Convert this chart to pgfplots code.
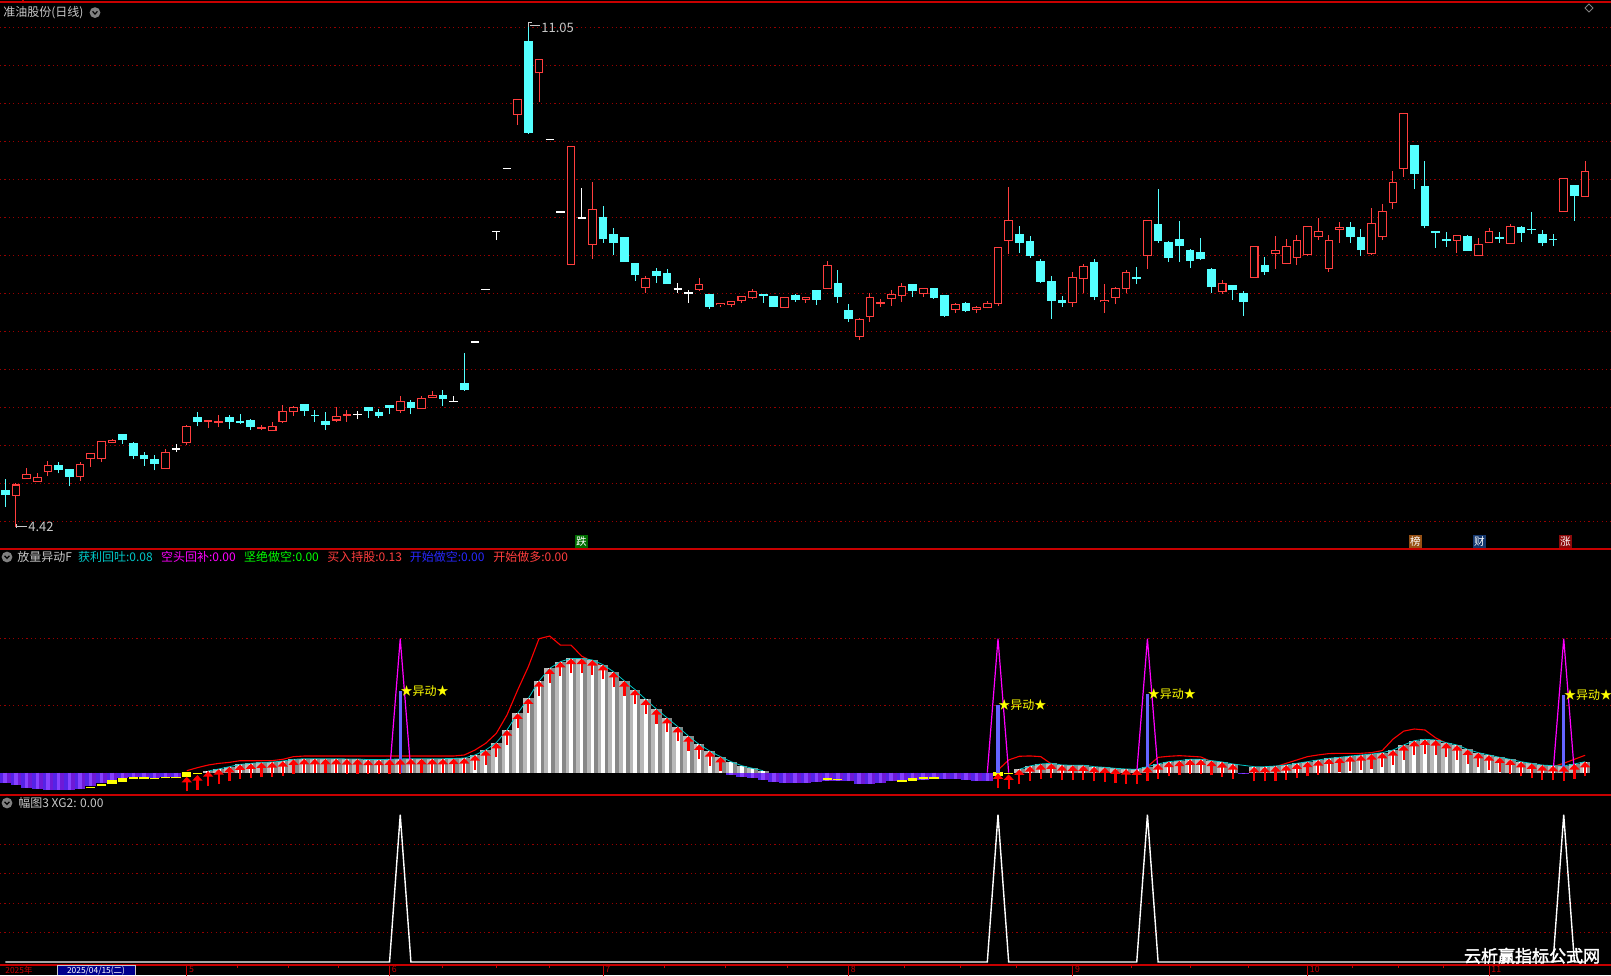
\documentclass[border=0pt]{standalone}
\usepackage{pgfplots}
\usepackage{pgfplotstable}
\pgfplotsset{compat=1.18}
\usepackage{fontspec}
\setmainfont{Noto Sans CJK SC}
\newfontfamily\wmfont{Noto Sans CJK SC}[FakeBold=2]
\usetikzlibrary{arrows.meta}
\definecolor{upR}{RGB}{255,62,62}
\definecolor{dnC}{RGB}{84,255,255}
\definecolor{gridR}{RGB}{150,0,0}
\definecolor{sepR}{RGB}{200,0,0}
\definecolor{txtG}{RGB}{200,200,200}
\definecolor{purL}{RGB}{85,35,230}
\definecolor{purM}{RGB}{135,65,255}
\definecolor{purR}{RGB}{110,25,215}
\definecolor{grL}{RGB}{185,185,185}
\definecolor{grR}{RGB}{135,135,135}
\definecolor{yel}{RGB}{255,255,0}
\definecolor{mag}{RGB}{255,0,255}
\definecolor{blu}{RGB}{100,100,255}
\definecolor{arrR}{RGB}{255,0,0}
\definecolor{cyL}{RGB}{0,200,200}
\definecolor{grnT}{RGB}{0,255,0}
\definecolor{bluT}{RGB}{40,40,255}
\definecolor{navy}{RGB}{0,0,140}
\definecolor{tagG}{RGB}{0,110,0}
\definecolor{tagB}{RGB}{150,80,20}
\definecolor{tagF}{RGB}{20,55,110}
\definecolor{tagZ}{RGB}{140,10,10}
\newcommand\tf{\fontsize{6pt}{7pt}\selectfont}

\pgfplotsset{
  panel/.style={
    scale only axis, anchor=south west, width=805.5pt,
    xmin=-0.4965, xmax=150.43,
    axis line style={draw=none}, major tick length=0pt,
    xtick=\empty, yticklabels={}, ymajorgrids,
    grid style={gridR, line width=0.5pt, dash pattern=on 0.6pt off 1.6pt},
  }
}

% ---------- candles: up (red hollow) ----------
\pgfplotstableread{
i O H L C
1 4.84 5.00 4.42 4.98
2 5.06 5.20 5.06 5.12
3 5.02 5.14 5.02 5.08
4 5.15 5.29 5.09 5.24
7 5.09 5.28 5.03 5.25
8 5.32 5.39 5.22 5.39
9 5.32 5.55 5.28 5.55
10 5.53 5.58 5.53 5.57
15 5.19 5.45 5.19 5.41
17 5.53 5.77 5.51 5.75
19 5.81 5.83 5.73 5.83
20 5.80 5.90 5.74 5.82
24 5.72 5.77 5.70 5.74
25 5.69 5.81 5.69 5.75
26 5.81 6.03 5.79 5.95
27 5.94 6.02 5.89 6.00
31 5.83 6.00 5.80 5.88
32 5.89 5.96 5.81 5.91
37 5.96 6.15 5.93 6.08
39 5.98 6.15 5.98 6.12
40 6.13 6.21 6.13 6.16
48 9.855 10.05 9.715 10.05
50 10.40 10.58 10.02 10.58
53 7.88 9.43 7.88 9.43
55 8.145 8.965 7.956 8.605
60 7.575 7.728 7.509 7.697
65 7.548 7.702 7.535 7.618
67 7.346 7.368 7.325 7.368
68 7.355 7.399 7.325 7.399
69 7.404 7.465 7.377 7.465
70 7.447 7.557 7.421 7.526
73 7.316 7.447 7.316 7.447
75 7.421 7.447 7.377 7.447
77 7.566 7.921 7.566 7.868
80 6.929 7.170 6.885 7.157
81 7.192 7.499 7.126 7.447
82 7.368 7.420 7.324 7.381
83 7.429 7.543 7.337 7.486
84 7.469 7.631 7.390 7.591
86 7.495 7.565 7.455 7.565
89 7.289 7.368 7.245 7.354
91 7.289 7.333 7.236 7.315
92 7.315 7.394 7.302 7.368
93 7.363 8.104 7.337 8.104
94 8.192 8.898 8.021 8.460
100 7.376 7.780 7.324 7.710
101 7.692 7.885 7.508 7.859
103 7.390 7.622 7.245 7.411
104 7.447 7.578 7.359 7.565
105 7.565 7.806 7.508 7.776
107 7.995 8.460 7.819 8.460
114 7.521 7.675 7.490 7.631
117 7.710 8.118 7.710 8.118
119 8.026 8.254 7.824 8.065
120 7.894 8.214 7.894 8.118
121 7.969 8.267 7.872 8.197
122 8.004 8.381 7.991 8.381
123 8.245 8.491 8.201 8.315
124 7.824 8.267 7.784 8.197
125 8.337 8.438 8.166 8.368
128 8.026 8.622 8.004 8.420
129 8.245 8.675 8.201 8.578
130 8.692 9.109 8.613 8.960
131 9.144 9.868 9.034 9.868
136 8.197 8.263 8.034 8.263
138 7.995 8.223 7.995 8.144
139 8.171 8.355 8.171 8.315
141 8.157 8.407 8.157 8.381
146 8.574 9.013 8.574 9.013
148 8.771 9.241 8.771 9.105
}\tU

% ---------- candles: down (cyan filled) ----------
\pgfplotstableread{
i O H L C
0 4.91 5.06 4.69 4.85
5 5.24 5.28 5.13 5.18
6 5.18 5.18 4.96 5.09
11 5.64 5.65 5.52 5.57
12 5.52 5.54 5.32 5.36
13 5.36 5.41 5.23 5.32
14 5.32 5.37 5.17 5.26
18 5.86 5.94 5.75 5.81
21 5.87 5.90 5.71 5.81
22 5.82 5.91 5.78 5.80
23 5.83 5.85 5.70 5.75
28 6.04 6.04 5.89 5.96
29 5.89 5.96 5.81 5.885
30 5.82 5.94 5.70 5.77
34 6.00 6.00 5.86 5.96
35 5.93 5.98 5.86 5.89
36 6.03 6.03 5.91 6.00
38 6.07 6.10 5.91 6.00
41 6.16 6.23 6.02 6.11
43 6.32 6.71 6.22 6.24
49 10.81 11.05 9.60 9.62
56 8.50 8.645 8.167 8.219
57 8.276 8.355 8.004 8.167
58 8.237 8.237 7.917 7.917
59 7.895 7.895 7.667 7.741
61 7.781 7.833 7.640 7.732
62 7.763 7.816 7.627 7.627
66 7.491 7.491 7.298 7.325
71 7.491 7.491 7.377 7.469
72 7.452 7.452 7.325 7.325
74 7.478 7.491 7.390 7.421
76 7.531 7.531 7.351 7.421
78 7.623 7.807 7.377 7.456
79 7.280 7.359 7.126 7.166
85 7.622 7.622 7.455 7.534
87 7.565 7.565 7.429 7.442
88 7.473 7.473 7.188 7.201
90 7.368 7.385 7.258 7.271
95 8.280 8.385 8.034 8.166
96 8.188 8.254 7.969 7.995
97 7.925 7.947 7.640 7.661
98 7.661 7.727 7.166 7.411
99 7.411 7.464 7.324 7.376
102 7.911 7.951 7.411 7.455
106 7.705 7.841 7.622 7.692
108 8.411 8.872 8.166 8.192
109 8.175 8.188 7.911 7.969
110 8.214 8.451 7.911 8.126
111 8.069 8.083 7.837 7.929
112 8.043 8.227 7.938 7.951
113 7.819 7.833 7.508 7.587
115 7.609 7.609 7.411 7.543
116 7.504 7.530 7.205 7.390
118 7.872 7.977 7.741 7.784
126 8.368 8.438 8.166 8.245
127 8.236 8.346 7.995 8.074
132 9.451 9.451 8.872 9.074
133 8.912 9.241 8.355 8.390
134 8.311 8.311 8.100 8.302
135 8.210 8.306 8.113 8.192
137 8.249 8.263 8.061 8.061
140 8.241 8.306 8.166 8.227
142 8.368 8.381 8.179 8.302
143 8.346 8.570 8.285 8.337
144 8.276 8.333 8.127 8.166
145 8.214 8.276 8.127 8.201
147 8.925 8.925 8.456 8.785
}\tD

% ---------- candles: flat (white) ----------
\pgfplotstableread{
i O H L C
16 5.45 5.52 5.41 5.45
33 5.91 5.95 5.84 5.91
42 6.08 6.15 6.08 6.08
44 6.86 6.86 6.86 6.86
45 7.55 7.55 7.55 7.55
46 8.31 8.31 8.20 8.31
47 9.14 9.14 9.14 9.14
51 9.52 9.52 9.52 9.52
52 8.57 8.57 8.57 8.57
54 8.49 8.88 8.49 8.49
63 7.557 7.632 7.509 7.557
64 7.504 7.544 7.377 7.504
}\tW

% ---------- indicator: grey bars ----------
\pgfplotstableread{
i g
19 0.025
20 0.055
21 0.09
22 0.124
23 0.139
24 0.154
25 0.159
26 0.174
27 0.199
28 0.209
29 0.209
30 0.209
31 0.209
32 0.205
33 0.205
34 0.195
35 0.195
36 0.2
37 0.205
38 0.209
39 0.209
40 0.209
41 0.209
42 0.212
43 0.219
44 0.264
45 0.338
46 0.448
47 0.637
48 0.886
49 1.109
50 1.368
51 1.557
52 1.657
53 1.706
54 1.706
55 1.682
56 1.612
57 1.505
58 1.37
59 1.24
60 1.095
61 0.95
62 0.82
63 0.687
64 0.547
65 0.423
66 0.323
67 0.239
68 0.164
69 0.104
70 0.065
71 0.03
95 0.05
96 0.1
97 0.13
98 0.14
99 0.115
100 0.11
101 0.11
102 0.09
103 0.08
104 0.065
105 0.055
106 0.05
107 0.09
108 0.13
109 0.165
110 0.18
111 0.2
112 0.2
113 0.18
114 0.16
115 0.13
117 0.09
118 0.09
119 0.1
120 0.115
121 0.14
122 0.165
123 0.19
124 0.214
125 0.229
126 0.249
127 0.264
128 0.279
129 0.299
130 0.338
131 0.413
132 0.478
133 0.498
134 0.488
135 0.448
136 0.413
137 0.348
138 0.299
139 0.264
140 0.229
141 0.199
142 0.164
143 0.139
144 0.114
145 0.104
146 0.1
147 0.13
148 0.164
}\tG

% ---------- indicator: purple bars ----------
\pgfplotstableread{
i p
0 -0.15
1 -0.18
2 -0.23
3 -0.25
4 -0.26
5 -0.26
6 -0.26
7 -0.25
8 -0.2
9 -0.16
10 -0.11
11 -0.08
12 -0.07
13 -0.07
14 -0.08
15 -0.07
16 -0.06
68 -0.035
69 -0.06
70 -0.085
71 -0.11
72 -0.14
73 -0.15
74 -0.15
75 -0.15
76 -0.14
77 -0.12
78 -0.12
79 -0.13
80 -0.17
81 -0.17
82 -0.15
83 -0.13
84 -0.12
85 -0.11
86 -0.11
87 -0.10
88 -0.10
89 -0.10
90 -0.11
91 -0.12
92 -0.12
116 -0.02
}\tP

% ---------- indicator: yellow segments ----------
\pgfplotstableread{
i lo hi
8 -0.233 -0.208
9 -0.199 -0.169
10 -0.169 -0.109
11 -0.134 -0.084
12 -0.099 -0.069
13 -0.099 -0.069
14 -0.099 -0.084
15 -0.084 -0.069
16 -0.084 -0.059
17 -0.059 0.015
18 -0.02 0.0
77 -0.11 -0.085
78 -0.11 -0.095
84 -0.14 -0.11
85 -0.12 -0.08
86 -0.10 -0.07
87 -0.09 -0.065
93 -0.045 0.01
94 -0.02 0.0
}\tY

% ---------- special arrow tips ----------
\pgfplotstableread{
i t
17 -0.06
18 -0.035
93 -0.01
94 -0.025
}\tAx

% ---------- blue bars at the signals ----------
\pgfplotstableread{
i b
37 1.22
93 1.01
107 1.18
146 1.16
}\tB

% ---------- red line ----------
\pgfplotstableread{
i r
17 0.03
18 0.075
19 0.114
20 0.139
21 0.154
22 0.179
23 0.179
24 0.179
25 0.18
26 0.2
27 0.239
28 0.249
30 0.249
32 0.249
34 0.249
36 0.249
38 0.249
40 0.249
42 0.249
43 0.264
44 0.338
45 0.438
46 0.587
47 0.861
48 1.234
49 1.582
50 2.0
51 2.04
52 1.905
53 1.905
54 1.74
55 1.66
56 1.58
57 nan
93 0.04
94 0.19
95 0.245
96 0.25
97 0.24
98 0.13
99 nan
107 0.09
108 0.229
109 0.245
110 0.254
111 0.245
112 0.235
113 0.164
114 0.14
115 nan
118 0.08
119 0.09
120 0.14
121 0.19
122 0.24
123 0.265
124 0.285
125 0.289
126 0.289
127 0.289
128 0.30
129 0.33
130 0.5
131 0.62
132 0.652
133 0.637
134 0.52
135 0.44
136 nan
145 0.09
146 0.14
147 0.2
148 0.26
}\tR

\begin{document}
\begin{tikzpicture}
\fill[black] (0,0) rectangle (805.5pt,487.5pt);
\useasboundingbox (0,0) rectangle (805.5pt,487.5pt);

%================ PANEL 1: candles =================
\begin{axis}[panel, at={(0pt,213pt)}, height=273.5pt,
  ymin=4.1355, ymax=11.333, ytick={4.5,5,5.5,6,6.5,7,7.5,8,8.5,9,9.5,10,10.5,11}]
% wicks
\addplot[quiver={u=0,v=\thisrow{H}-\thisrow{L}}, draw=upR, line width=0.5pt] table[x=i,y=L]{\tU};
\addplot[quiver={u=0,v=\thisrow{H}-\thisrow{L}}, draw=dnC, line width=0.5pt] table[x=i,y=L]{\tD};
\addplot[quiver={u=0,v=\thisrow{H}-\thisrow{L}}, draw=white, line width=0.5pt] table[x=i,y=L]{\tW};
% bodies
\addplot[quiver={u=0,v={\thisrow{O}-\thisrow{C}+0.012}}, draw=dnC, line width=4.35pt] table[x=i,y expr=\thisrow{C}-0.006]{\tD};
\addplot[quiver={u=0,v={\thisrow{C}-\thisrow{O}+0.012}}, draw=upR, line width=4.35pt] table[x=i,y expr=\thisrow{O}-0.006]{\tU};
\addplot[quiver={u=0,v={max(\thisrow{C}-\thisrow{O}-0.02,0)}}, draw=black, line width=3.3pt] table[x=i,y expr=\thisrow{O}+0.01]{\tU};
\addplot[quiver={u=0.78,v=0}, draw=white, line width=0.6pt] table[x expr=\thisrow{i}-0.39,y=O]{\tW};
\end{axis}

%================ PANEL 2: indicator =================
\begin{axis}[panel, at={(0pt,90pt)}, height=123pt,
  ymin=-0.333, ymax=3.339, ytick={1,2}, unbounded coords=jump]
% purple bars in three stripes
\addplot[quiver={u=0,v=\thisrow{p}}, draw=purL, line width=1.8pt] table[x expr=\thisrow{i}-0.333,y expr=0]{\tP};
\addplot[quiver={u=0,v=\thisrow{p}}, draw=purM, line width=1.8pt] table[x=i,y expr=0]{\tP};
\addplot[quiver={u=0,v=\thisrow{p}}, draw=purR, line width=1.8pt] table[x expr=\thisrow{i}+0.333,y expr=0]{\tP};
\addplot[red, line width=0.55pt] table[x=i,y=r]{\tR};
% grey bars in three stripes
\addplot[quiver={u=0,v=\thisrow{g}}, draw=grL, line width=1.8pt] table[x expr=\thisrow{i}-0.333,y expr=0]{\tG};
\addplot[quiver={u=0,v=\thisrow{g}}, draw=white, line width=1.8pt] table[x=i,y expr=0]{\tG};
\addplot[quiver={u=0,v=\thisrow{g}}, draw=grR, line width=1.8pt] table[x expr=\thisrow{i}+0.333,y expr=0]{\tG};
\addplot[cyL, line width=0.4pt, restrict x to domain=19:71] table[x=i,y=g]{\tG};
\addplot[cyL, line width=0.4pt, restrict x to domain=95:148] table[x=i,y=g]{\tG};
\addplot[quiver={u=0,v={\thisrow{hi}-\thisrow{lo}}}, draw=yel, line width=4.6pt] table[x=i,y=lo]{\tY};
\addplot[mag, line width=0.6pt] coordinates {(36,0) (37,2) (38,0)};
\addplot[mag, line width=0.6pt] coordinates {(92,0) (93,2) (94,0)};
\addplot[mag, line width=0.6pt] coordinates {(106,0) (107,2) (108,0)};
\addplot[mag, line width=0.6pt] coordinates {(145,0) (146,2) (147,0)};
\addplot[quiver={u=0,v=\thisrow{b}}, draw=blu, line width=1.6pt] table[x=i,y expr=0]{\tB};
\addplot[quiver={u=0,v=0.22}, draw=arrR, line width=1.1pt, -{Triangle[width=5pt,length=2.8pt]}, restrict x to domain=19:67] table[x=i,y expr=\thisrow{g}-0.22]{\tG};
\addplot[quiver={u=0,v=0.22}, draw=arrR, line width=1.1pt, -{Triangle[width=5pt,length=2.8pt]}, restrict x to domain=95:148] table[x=i,y expr=\thisrow{g}-0.22]{\tG};
\addplot[quiver={u=0,v=0.22}, draw=arrR, line width=1.1pt, -{Triangle[width=5pt,length=2.8pt]}] table[x=i,y expr=\thisrow{t}-0.22]{\tAx};
\node[anchor=west, inner sep=0pt, text=yel] at (axis cs:37,1.22) {\tf ★异动★};
\node[anchor=west, inner sep=0pt, text=yel] at (axis cs:93,1.01) {\tf ★异动★};
\node[anchor=west, inner sep=0pt, text=yel] at (axis cs:107,1.18) {\tf ★异动★};
\node[anchor=west, inner sep=0pt, text=yel] at (axis cs:146,1.16) {\tf ★异动★};
\end{axis}

%================ PANEL 3 =================
\begin{axis}[panel, at={(0pt,5pt)}, height=85pt,
  ymin=-0.0204, ymax=1.1337, ytick={0.2,0.4,0.6,0.8}]
\addplot[white, line width=0.7pt] coordinates {(0,0) (36,0) (37,1) (38,0) (92,0) (93,1) (94,0) (106,0) (107,1) (108,0) (145,0) (146,1) (147,0) (148,0)};
\end{axis}

%================ separators =================
\draw[sepR, line width=0.8pt] (0,486.35pt) -- (805.5pt,486.35pt);
\draw[sepR, line width=0.8pt] (0,212.85pt) -- (805.5pt,212.85pt);
\draw[sepR, line width=0.8pt] (0,90pt) -- (805.5pt,90pt);
\draw[sepR, line width=0.8pt] (0,5pt) -- (805.5pt,5pt);
\draw[sepR, line width=0.8pt] (11.5pt,487.5pt) -- (11.5pt,486pt);

%================ titles =================
\node[anchor=west, inner sep=0pt, text=txtG] at (1.5pt,481pt) {\tf 准油股份(日线)};
\fill[gray] (47.5pt,481.2pt) circle (2.7pt);
\draw[black, line width=0.6pt] (46.3pt,481.8pt) -- (47.5pt,480.5pt) -- (48.7pt,481.8pt);
\draw[gray, line width=0.5pt] (794.5pt,485.5pt) -- (796.5pt,483.5pt) -- (794.5pt,481.5pt) -- (792.5pt,483.5pt) -- cycle;

% price extremes
\draw[txtG, line width=0.45pt] (264.3pt,476.5pt) -- (264.3pt,474pt);
\draw[txtG, line width=0.45pt] (264.3pt,476.5pt) -- (266pt,476.5pt);
\draw[txtG, line width=0.45pt] (265pt,474.8pt) -- (270pt,474.8pt);
\node[anchor=west, inner sep=0pt, text=txtG] at (270.5pt,473.8pt) {\fontsize{6.5pt}{7pt}\selectfont 11.05};
\draw[txtG, line width=0.45pt] (8pt,224.3pt) -- (13.5pt,224.3pt);
\draw[txtG, line width=0.45pt] (8pt,225.3pt) -- (8pt,223.3pt);
\node[anchor=west, inner sep=0pt, text=txtG] at (14pt,224pt) {\fontsize{6.5pt}{7pt}\selectfont 4.42};

% event tags
\node[fill=tagG, text=white, inner sep=0.4pt, minimum size=6.3pt] at (290.75pt,216.7pt) {\fontsize{5.3pt}{6pt}\selectfont 跌};
\node[fill=tagB, text=white, inner sep=0.4pt, minimum size=6.3pt] at (707.7pt,216.7pt) {\fontsize{5.3pt}{6pt}\selectfont 榜};
\node[fill=tagF, text=white, inner sep=0.4pt, minimum size=6.3pt] at (739.7pt,216.7pt) {\fontsize{5.3pt}{6pt}\selectfont 财};
\node[fill=tagZ, text=white, inner sep=0.4pt, minimum size=6.3pt] at (782.7pt,216.7pt) {\fontsize{5.3pt}{6pt}\selectfont 涨};

% panel 2 title
\fill[gray] (3.5pt,209pt) circle (2.7pt);
\draw[black, line width=0.6pt] (2.3pt,209.6pt) -- (3.5pt,208.3pt) -- (4.7pt,209.6pt);
\node[anchor=west, inner sep=0pt, text=txtG] at (8.5pt,209pt) {\tf 放量异动F};
\node[anchor=west, inner sep=0pt, text=cyL] at (38.85pt,209pt) {\tf 获利回吐:0.08};
\node[anchor=west, inner sep=0pt, text=mag] at (80.35pt,209pt) {\tf 空头回补:0.00};
\node[anchor=west, inner sep=0pt, text=grnT] at (121.9pt,209pt) {\tf 坚绝做空:0.00};
\node[anchor=west, inner sep=0pt, text=upR] at (163.5pt,209pt) {\tf 买入持股:0.13};
\node[anchor=west, inner sep=0pt, text=bluT] at (204.75pt,209pt) {\tf 开始做空:0.00};
\node[anchor=west, inner sep=0pt, text=upR] at (246.5pt,209pt) {\tf 开始做多:0.00};

% panel 3 title
\fill[gray] (3.5pt,86pt) circle (2.7pt);
\draw[black, line width=0.6pt] (2.3pt,86.6pt) -- (3.5pt,85.3pt) -- (4.7pt,86.6pt);
\node[anchor=west, inner sep=0pt, text=txtG] at (9pt,86pt) {\tf 幅图3 XG2: 0.00};

% watermark
\node[text=white, inner sep=0pt] at (766pt,9.6pt) {\wmfont\fontsize{8.5pt}{9pt}\selectfont 云析赢指标公式网};

% date axis
\foreach \m/\l in {17/5,36/6,56/7,79/8,100/9,122/10,139/11}{
  \draw[sepR, line width=0.5pt] ({(5.3+10.674*\m)*0.5pt},5pt) -- ++(0,-6pt);
  \node[anchor=north west, inner sep=0pt, text=sepR] at ({(5.3+10.674*\m)*0.5pt+1pt},4.4pt) {\fontsize{4.4pt}{4.6pt}\selectfont \l};
}
\foreach \m in {21.75,26.5,31.25,41,46,51,61.75,67.5,73.25,84.25,89.5,94.75,105.5,111,116.5,126.25,130.5,134.75}{
  \draw[sepR, line width=0.5pt] ({(5.3+10.674*\m)*0.5pt},5pt) -- ++(0,-1.6pt);
}
\node[anchor=north west, inner sep=0pt, text=sepR] at (2.5pt,4.4pt) {\fontsize{4.2pt}{4.4pt}\selectfont 2025年};
\fill[navy] (28.5pt,4.6pt) rectangle (67.5pt,0pt);
\draw[txtG, line width=0.4pt] (28.5pt,0pt) -- (28.5pt,4.6pt) -- (67.5pt,4.6pt) -- (67.5pt,0pt);
\node[anchor=north, inner sep=0pt, text=white] at (48pt,4.4pt) {\fontsize{4.2pt}{4.4pt}\selectfont 2025/04/15(二)};
\end{tikzpicture}
\end{document}
